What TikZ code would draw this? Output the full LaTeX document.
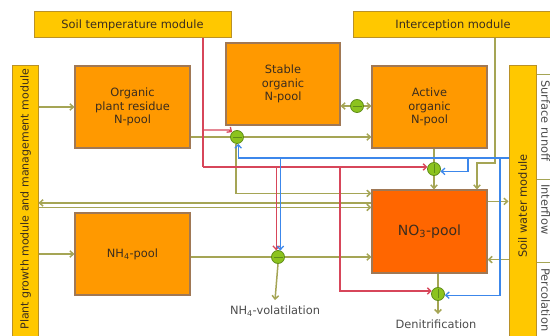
\documentclass[tikz,border=0pt]{standalone}
\usepackage{fontspec}
\setmainfont{DejaVu Sans}
\usetikzlibrary{arrows.meta,calc}

\definecolor{modfill}{RGB}{255,200,0}
\definecolor{moddraw}{RGB}{185,145,40}
\definecolor{poolfill}{RGB}{255,153,0}
\definecolor{pooldraw}{RGB}{160,120,85}
\definecolor{nofill}{RGB}{255,102,0}
\definecolor{flowcol}{RGB}{165,165,85}
\definecolor{tempcol}{RGB}{215,70,90}
\definecolor{watercol}{RGB}{60,135,235}
\definecolor{valvefill}{RGB}{140,195,30}
\definecolor{valvedraw}{RGB}{95,140,25}
\definecolor{txtcol}{RGB}{60,45,30}

\begin{document}
\begin{tikzpicture}[x=1pt,y=-1pt,>={Straight Barb[length=3.5pt,width=6.5pt]},
  font=\fontsize{11.4}{13.5}\selectfont,
  module/.style={draw=moddraw,fill=modfill,line width=1pt,inner sep=0pt,text=txtcol},
  pool/.style={draw=pooldraw,fill=poolfill,line width=1.2pt,inner sep=0pt,
    minimum width=115pt,minimum height=82pt,align=center,text=txtcol},
  valve/.style={circle,draw=valvedraw,fill=valvefill,line width=0.8pt,
    minimum size=13pt,inner sep=0pt},
  valveh/.style={valve,path picture={\draw[valvedraw,line width=0.6pt]
    ([xshift=2pt]path picture bounding box.west) -- ([xshift=-2pt]path picture bounding box.east);}},
  valvev/.style={valve,path picture={\draw[valvedraw,line width=0.6pt]
    ([yshift=2pt]path picture bounding box.south) -- ([yshift=-2pt]path picture bounding box.north);}},
  flow/.style={draw=flowcol,line width=1.5pt},
  temp/.style={draw=tempcol,line width=1.3pt},
  water/.style={draw=watercol,line width=1.3pt},
  label/.style={text=black!70}]

  \useasboundingbox (0,0) rectangle (550,336);

  % -- MODULES -------------------------------------------------------
  \node[module,minimum width=197pt,minimum height=26pt] (soiltemp) at (132.5,25) {Soil temperature module};
  \node[module,minimum width=199pt,minimum height=26pt,anchor=west] (interc) at (353,25) {Interception module};
  \node[module,rotate=90,minimum width=280pt,minimum height=26pt] (plant) at (25,206) {};
  \node[rotate=90,anchor=east,inner sep=0pt,text=txtcol,font=\fontsize{11}{13}\selectfont]
    (planttxt) at (25.5,69) {Plant growth module and management module};
  \node[module,rotate=90,minimum width=280pt,minimum height=27pt] (water) at (522.5,206) {Soil water module};

  % outputs of the soil water module (at the right edge)
  \node[label,rotate=-90,anchor=south west,inner sep=0pt] (runoff) at (541,80) {Surface runoff};
  \node[label,rotate=-90,anchor=south west,inner sep=0pt] (interflow) at (541,184) {Interflow};
  \node[label,rotate=-90,anchor=south west,inner sep=0pt] (percol) at (541,268) {Percolation};
  \draw[flow,line width=1pt] (water.south |- 0,75) -- ++(16,0);
  \draw[flow,line width=1pt] (water.south |- 0,180) -- ++(16,0);
  \draw[flow,line width=1pt] (water.south |- 0,263) -- ++(16,0);

  % -- POOLS ---------------------------------------------------------
  \node[pool] (res) at (132.5,107) {Organic\\plant residue\\N-pool};
  \node[pool,minimum width=114pt] (stable) at (283,84) {Stable\\organic\\N-pool};
  \node[pool] (active) at (429.5,107) {Active\\organic\\N-pool};
  \node[pool] (nh4) at (132.5,254) {NH\textsubscript{4}-pool};
  \node[pool,fill=nofill,minimum height=83pt,font=\fontsize{14}{16}\selectfont] (no3) at (429.5,231.5) {NO\textsubscript{3}-pool};

  % -- VALVES --------------------------------------------------------
  \node[valveh] (v1) at (237,137) {};
  \node[valveh] (v2) at (357,106) {};
  \node[valvev] (v3) at (434,169) {};
  \node[valveh] (v4) at (278,257) {};
  \node[valvev] (v5) at (438,294) {};

  \node[label] (volat) at (275,311) {NH\textsubscript{4}-volatilation};
  \node[label] (denit) at (436,324) {Denitrification};

  % -- N FLOWS -------------------------------------------------------
  \coordinate (n1) at ($(no3.north west)+(0,4)$);
  \coordinate (n2) at ($(no3.north west)+(0,13.5)$);
  \coordinate (n3) at ($(no3.north west)+(0,18)$);
  \coordinate (n4) at ($(no3.north east)+(0,12)$);
  \coordinate (n5) at ($(no3.south east)+(0,-14)$);
  \coordinate (i1) at (495,163);
  \coordinate (i2) at (477,163);

  \draw[flow,->] (plant.south |- res.west) -- (res.west);
  \draw[flow,->] (plant.south |- nh4.west) -- (nh4.west);
  \draw[flow] (res.east |- v1.west) -- (v1.west);
  \draw[flow,->] (v1.east) -- (active.west |- v1.east);
  \draw[flow,->] (v1.260) |- (n1);
  \draw[flow,->] (v2.west) -- (stable.east |- v2.west);
  \draw[flow,->] (v2.east) -- (active.west |- v2.east);
  \draw[flow] (active.south -| v3.north) -- (v3.north);
  \draw[flow,->] (v3.south) -- (no3.north -| v3.south);
  \draw[flow,->] (n2) -- (plant.south |- n2);
  \draw[flow,->] (plant.south |- n3) -- (n3);
  \draw[flow] (nh4.east |- v4.west) -- (v4.west);
  \draw[flow,->] (v4.east) -- (no3.west |- v4.east);
  \draw[flow,->] (v4.south) -- ([yshift=2pt]volat.north);
  \draw[flow,->] (interc.south -| i1) -- (i1) -- (i2) -- (i2 |- no3.north);
  \draw[flow,->] (n4) -- (water.north |- n4);
  \draw[flow,->] (water.north |- n5) -- (n5);
  \draw[flow] (no3.south -| v5.north) -- (v5.north);
  \draw[flow,->] (v5.south) -- ([yshift=2pt]denit.north -| v5.south);

  % -- TEMPERATURE ---------------------------------------------------
  \coordinate (t1) at (203,130);
  \coordinate (t2) at (203,167);
  \coordinate (t3) at (340,291);
  \draw[temp] (soiltemp.south -| t1) -- (t2);
  \draw[temp,->] (t1) -- ($(t1 -| v1.135)+(-3,0)$) -- (v1.135);
  \draw[temp,->] (t2) -| (v4.105);
  \draw[temp,->] (t2) -- (t2 -| v3.160);
  \draw[temp,->] (t2 -| t3) -- (t3) -- (t3 -| v5.155);

  % -- SOIL WATER ----------------------------------------------------
  \coordinate (w1) at (239,158);
  \coordinate (w2) at (468,158);
  \coordinate (w3) at (500,158);
  \draw[water,->] (water.north |- w1) -| (v1.280);
  \draw[water,->] (v4.70 |- w1) -- (v4.70);
  \draw[water,->] (w2) |- (v3.-20);
  \draw[water,->] (w3) |- (v5.-10);

\end{tikzpicture}
\end{document}
